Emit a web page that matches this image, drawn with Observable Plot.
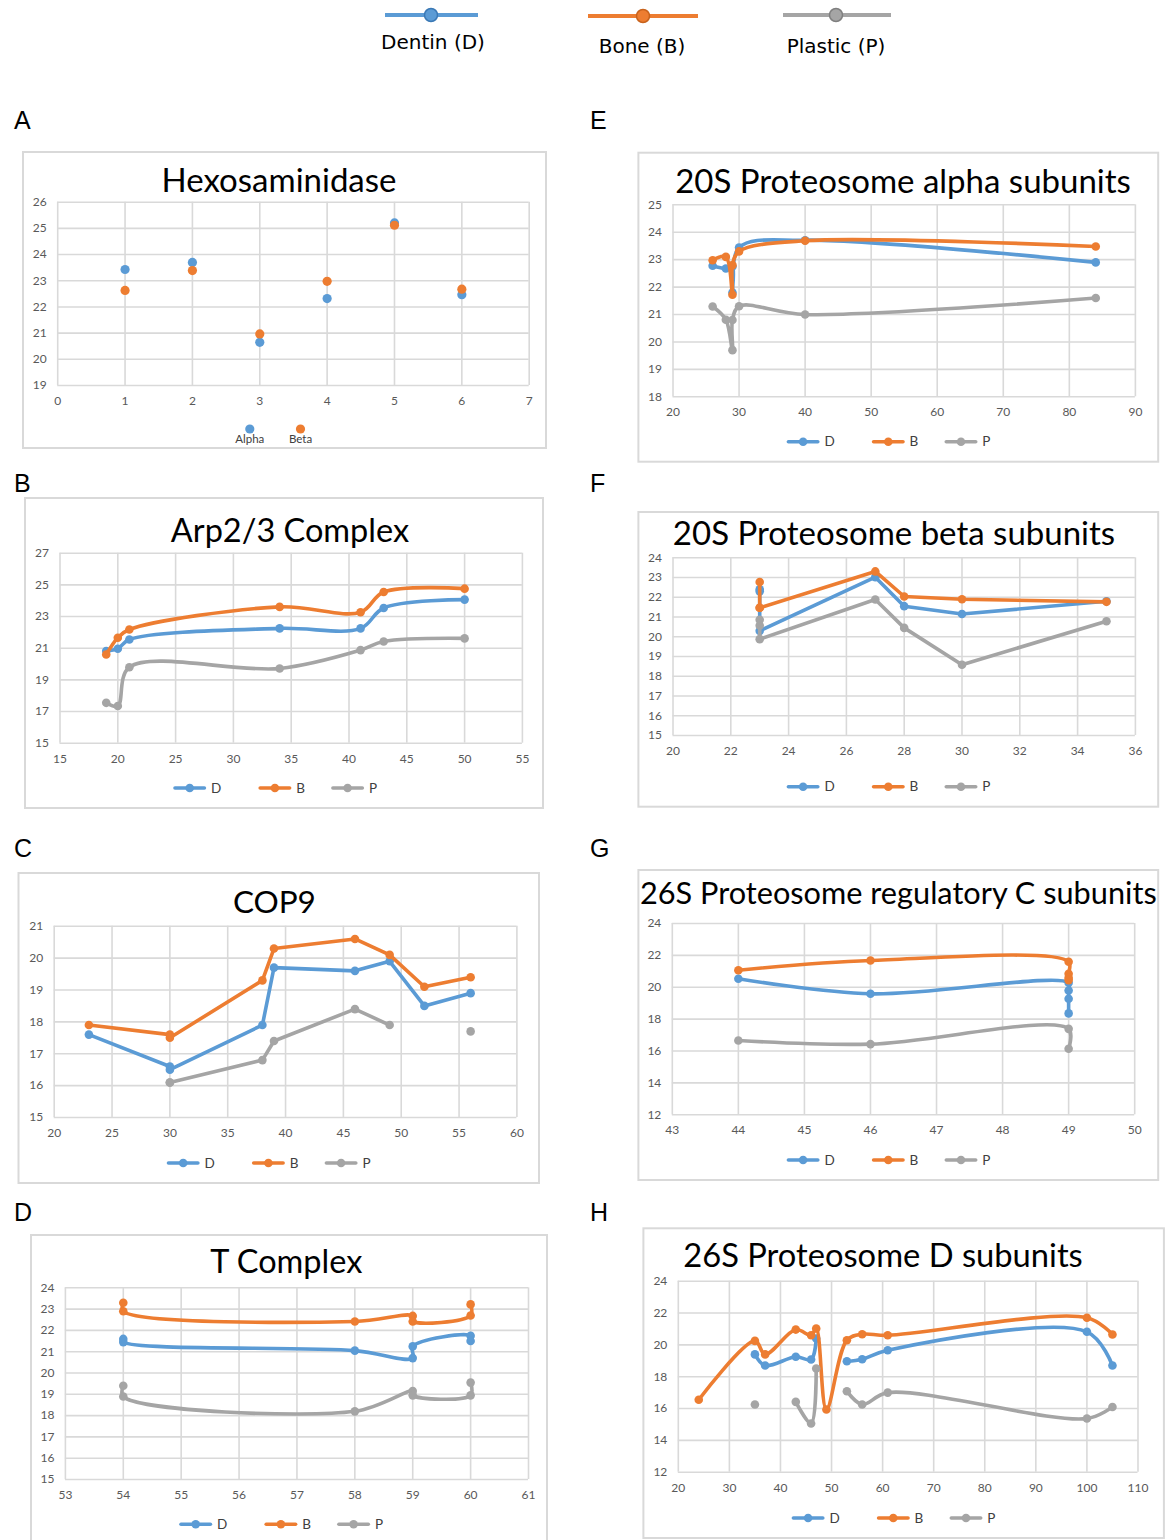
<!DOCTYPE html>
<html><head><meta charset="utf-8">
<script src="https://cdn.jsdelivr.net/npm/d3@7"></script>
<script src="https://cdn.jsdelivr.net/npm/@observablehq/plot@0.6"></script>
<style>
body{margin:0;background:#fff;}
#root{position:relative;width:1171px;height:1540px;overflow:hidden;background:#fff;}
</style></head><body><div id="root"></div>
<script>
// ---------- colours ----------
const BLUE = "#5B9BD5", ORANGE = "#ED7D31", GRAY = "#A5A5A5";

// ---------- legend names ----------
const seriesNames = ["Dentin (D)", "Bone (B)", "Plastic (P)"];
const seriesShort = ["D", "B", "P"];
const hexNames = ["Alpha", "Beta"];

// ---------- A: Hexosaminidase ----------
const hexX = [1, 2, 3, 4, 5, 6];
const hexAlpha = [23.43, 23.70, 20.65, 22.32, 25.21, 22.47];
const hexBeta  = [22.63, 23.39, 20.97, 22.98, 25.12, 22.68];
const hexTicksX = [0, 1, 2, 3, 4, 5, 6, 7];
const hexTicksY = [19, 20, 21, 22, 23, 24, 25, 26];

// ---------- B: Arp2/3 Complex ----------
const arpX = [19, 20, 21, 34, 41, 43, 50];
const arpD = [20.82, 20.97, 21.55, 22.25, 22.25, 23.54, 24.07];
const arpB = [20.60, 21.66, 22.18, 23.61, 23.27, 24.55, 24.76];
const arpP = [17.55, 17.35, 19.80, 19.72, 20.88, 21.42, 21.62];
const arpTicksX = [15, 20, 25, 30, 35, 40, 45, 50, 55];
const arpTicksY = [15, 17, 19, 21, 23, 25, 27];

// ---------- C: COP9 ----------
const copX = [23, 30, 30, 38, 39, 46, 49, 52, 56];
const copD = [17.6, 16.6, 16.5, 17.9, 19.7, 19.6, 19.9, 18.5, 18.9];
const copB = [17.9, 17.6, 17.5, 19.3, 20.3, 20.6, 20.1, 19.1, 19.4];
const copP = [null, 16.1, 16.1, 16.8, 17.4, 18.4, 17.9, null, 17.7];
const copTicksX = [20, 25, 30, 35, 40, 45, 50, 55, 60];
const copTicksY = [15, 16, 17, 18, 19, 20, 21];

// ---------- D: T Complex ----------
const tcX = [54, 54, 58, 59, 59, 60, 60];
const tcD = [21.60, 21.45, 21.05, 20.70, 21.25, 21.75, 21.50];
const tcB = [23.30, 22.90, 22.42, 22.68, 22.42, 22.70, 23.22];
const tcP = [19.40, 18.90, 18.20, 19.15, 18.95, 18.95, 19.55];
const tcTicksX = [53, 54, 55, 56, 57, 58, 59, 60, 61];
const tcTicksY = [15, 16, 17, 18, 19, 20, 21, 22, 23, 24];

// ---------- E: 20S Proteosome alpha subunits ----------
const eX = [26, 28, 29, 29, 30, 40, 84];
const eD = [22.78, 22.68, 22.75, 21.80, 23.44, 23.71, 22.90];
const eB = [22.98, 23.10, 21.72, 22.80, 23.30, 23.69, 23.48];
const eP = [21.29, 20.81, 19.70, 20.80, 21.30, 21.00, 21.60];
const eTicksX = [20, 30, 40, 50, 60, 70, 80, 90];
const eTicksY = [18, 19, 20, 21, 22, 23, 24, 25];

// ---------- F: 20S Proteosome beta subunits ----------
const fX = [23, 23, 23, 27, 28, 30, 35];
const fD = [22.40, 22.30, 20.30, 23.02, 21.55, 21.15, 21.80];
const fB = [22.77, 21.47, 21.47, 23.31, 22.04, 21.90, 21.77];
const fP = [20.86, 20.57, 19.88, 21.89, 20.45, 18.58, 20.79];
const fTicksX = [20, 22, 24, 26, 28, 30, 32, 34, 36];
const fTicksY = [15, 16, 17, 18, 19, 20, 21, 22, 23, 24];

// ---------- G: 26S Proteosome regulatory C subunits ----------
const gX = [44, 46, 49, 49, 49, 49];
const gD = [20.53, 19.59, 20.28, 19.80, 19.28, 18.36];
const gB = [21.07, 21.68, 21.60, 20.85, 20.60, 20.45];
const gP = [16.66, 16.43, 17.39, 16.14, null, null];
const gTicksX = [43, 44, 45, 46, 47, 48, 49, 50];
const gTicksY = [12, 14, 16, 18, 20, 22, 24];

// ---------- H: 26S Proteosome D subunits ----------
const hX = [24, 35, 37, 43, 46, 47, 49, 53, 56, 61, 100, 105];
const hD = [null, 19.40, 18.70, 19.25, 19.08, 20.40, null, 18.97, 19.10, 19.66, 20.82, 18.70];
const hB = [16.55, 20.25, 19.40, 20.96, 20.60, 21.03, 15.94, 20.29, 20.67, 20.60, 21.70, 20.65];
const hP = [null, 16.25, null, 16.42, 15.06, 18.51, null, 17.09, 16.25, 17.00, 15.37, 16.10];
const hTicksX = [20, 30, 40, 50, 60, 70, 80, 90, 100, 110];
const hTicksY = [12, 14, 16, 18, 20, 22, 24];

// ---------- layout config ----------
const trio = (x, d, b, p) => [{x, y: d, color: BLUE}, {x, y: b, color: ORANGE}, {x, y: p, color: GRAY}];
const panels = [
  {letter: "A", lp: [14, 129], box: [23, 152, 546, 448], plot: [57.2, 201.7, 528.7, 385], title: "Hexosaminidase", tx: 279, ty: 192, fs: 33,
   xd: [0, 7], xt: hexTicksX, yd: [19, 26], yt: hexTicksY, scatter: true,
   series: [{x: hexX, y: hexAlpha, color: BLUE}, {x: hexX, y: hexBeta, color: ORANGE}]},
  {letter: "B", lp: [14, 492], box: [25, 498, 543, 808], plot: [59.5, 552.7, 521.9, 742.7], title: "Arp2/3 Complex", tx: 290, ty: 542, fs: 32.5,
   xd: [15, 55], xt: arpTicksX, yd: [15, 27], yt: arpTicksY, curve: "catmull-rom", series: trio(arpX, arpD, arpB, arpP)},
  {letter: "C", lp: [14, 857], box: [18.5, 873, 539, 1183], plot: [53.2, 925.7, 515.9, 1117], title: "COP9", tx: 274.4, ty: 913, fs: 31.5,
   xd: [20, 60], xt: copTicksX, yd: [15, 21], yt: copTicksY, curve: "linear", series: trio(copX, copD, copB, copP)},
  {letter: "D", lp: [14, 1221], box: [31, 1235, 547, 1544], plot: [64.9, 1287.3, 528, 1479], title: "T Complex", tx: 286.3, ty: 1273, fs: 32.5,
   xd: [53, 61], xt: tcTicksX, yd: [15, 24], yt: tcTicksY, curve: "catmull-rom", series: trio(tcX, tcD, tcB, tcP)},
  {letter: "E", lp: [590, 129], box: [638.4, 152.7, 1158.2, 461.7], plot: [672.9, 204, 1135.3, 396], title: "20S Proteosome alpha subunits", tx: 903, ty: 193, fs: 33,
   xd: [20, 90], xt: eTicksX, yd: [18, 25], yt: eTicksY, curve: "catmull-rom", series: trio(eX, eD, eB, eP)},
  {letter: "F", lp: [590, 492], box: [638.4, 512, 1158.2, 806.7], plot: [672.9, 557.3, 1135.3, 735], title: "20S Proteosome beta subunits", tx: 894, ty: 545, fs: 33,
   xd: [20, 36], xt: fTicksX, yd: [15, 24], yt: fTicksY, curve: "linear", series: trio(fX, fD, fB, fP)},
  {letter: "G", lp: [590, 857], box: [638.4, 870, 1158.2, 1180], plot: [672.2, 923, 1134.6, 1114.3], title: "26S Proteosome regulatory C subunits", tx: 898.3, ty: 904, fs: 30.7,
   xd: [43, 50], xt: gTicksX, yd: [12, 24], yt: gTicksY, curve: "catmull-rom", series: trio(gX, gD, gB, gP)},
  {letter: "H", lp: [590, 1221], box: [643.4, 1228.3, 1163.9, 1538], plot: [678.2, 1281, 1137.9, 1472], title: "26S Proteosome D subunits", tx: 883, ty: 1267, fs: 32.7,
   xd: [20, 110], xt: hTicksX, yd: [12, 24], yt: hTicksY, curve: "catmull-rom", series: trio(hX, hD, hB, hP)}
];

const root = document.getElementById("root");

for (const p of panels) {
  const [bx0, by0, bx1, by1] = p.box, [px0, py0, px1, py1] = p.plot;
  const marks = [
    Plot.gridX(p.xt, {stroke: "#d9d9d9", strokeOpacity: 1, strokeWidth: 1.6}),
    Plot.gridY(p.yt, {stroke: "#d9d9d9", strokeOpacity: 1, strokeWidth: 1.6}),
    Plot.axisX(p.xt, {tickSize: 0, tickPadding: 11, fontSize: 12, fill: "#595959", label: null}),
    Plot.axisY(p.yt, {tickSize: 0, tickPadding: 11, fontSize: 12, fill: "#595959", label: null})
  ];
  for (const s of p.series) {
    const data = s.x.map((x, i) => ({x, y: s.y[i]}));
    if (!p.scatter) {
      marks.push(Plot.line(data, {x: "x", y: "y", stroke: s.color, strokeWidth: 3.6, curve: p.curve,
        strokeLinejoin: "round", strokeLinecap: "round"}));
    }
    marks.push(Plot.dot(data.filter(d => d.y != null), {x: "x", y: "y", fill: s.color, r: p.scatter ? 4.6 : 4.3}));
  }
  const svg = Plot.plot({
    width: bx1 - bx0, height: by1 - by0,
    marginLeft: px0 - bx0, marginRight: bx1 - px1, marginTop: py0 - by0, marginBottom: by1 - py1,
    x: {domain: p.xd}, y: {domain: p.yd},
    style: {fontFamily: "Lato", background: "transparent", overflow: "visible"},
    marks
  });
  svg.style.position = "absolute";
  svg.style.left = bx0 + "px";
  svg.style.top = by0 + "px";
  svg.style.maxWidth = "none";
  root.appendChild(svg);
}

// ---------- overlay: boxes, titles, letters, legends ----------
const ov = d3.select(root).append("svg")
  .attr("width", 1171).attr("height", 1540)
  .style("position", "absolute").style("left", "0px").style("top", "0px");

for (const p of panels) {
  const [bx0, by0, bx1, by1] = p.box;
  ov.append("rect").attr("x", bx0).attr("y", by0).attr("width", bx1 - bx0).attr("height", by1 - by0)
    .attr("fill", "none").attr("stroke", "#d9d9d9").attr("stroke-width", 2);
  ov.append("text").attr("x", p.tx).attr("y", p.ty).attr("text-anchor", "middle")
    .attr("font-family", "Lato").attr("font-size", p.fs).attr("fill", "#000").text(p.title);
  ov.append("text").attr("x", p.lp[0]).attr("y", p.lp[1])
    .attr("font-family", "Liberation Sans").attr("font-size", 25).attr("fill", "#000").text(p.letter);
  if (p.scatter) {
    const lx = [249.8, 300.5];
    p.series.forEach((s, i) => {
      ov.append("circle").attr("cx", lx[i]).attr("cy", 429).attr("r", 4.6).attr("fill", s.color);
      ov.append("text").attr("x", lx[i]).attr("y", 443.3).attr("text-anchor", "middle")
        .attr("font-family", "Lato").attr("font-size", 11.5).attr("fill", "#404040").text(hexNames[i]);
    });
  } else {
    const x0 = bx0 + 150, ly = (p.letter === "D") ? 1524.3 : by1 - 20;
    const offs = [0, 85.2, 157.9];
    p.series.forEach((s, i) => {
      const lx = x0 + offs[i];
      ov.append("line").attr("x1", lx).attr("x2", lx + 29.4).attr("y1", ly).attr("y2", ly)
        .attr("stroke", s.color).attr("stroke-width", 3.6).attr("stroke-linecap", "round");
      ov.append("circle").attr("cx", lx + 14.7).attr("cy", ly).attr("r", 4.3).attr("fill", s.color);
      ov.append("text").attr("x", lx + 36).attr("y", ly + 4.7)
        .attr("font-family", "Lato").attr("font-size", 13.5).attr("fill", "#404040").text(seriesShort[i]);
    });
  }
}

// top legend
const topLegend = [
  {color: BLUE, edge: "#3a78b5", x0: 385, x1: 478, y: 15, mx: 431, tx: 433, ty: 49},
  {color: ORANGE, edge: "#c8621c", x0: 588, x1: 698, y: 16, mx: 643, tx: 642, ty: 53},
  {color: GRAY, edge: "#7f7f7f", x0: 783, x1: 891, y: 15, mx: 836, tx: 836, ty: 53}
];
topLegend.forEach((t, i) => {
  ov.append("line").attr("x1", t.x0).attr("x2", t.x1).attr("y1", t.y).attr("y2", t.y)
    .attr("stroke", t.color).attr("stroke-width", 4);
  ov.append("circle").attr("cx", t.mx).attr("cy", t.y).attr("r", 6.5)
    .attr("fill", t.color).attr("stroke", t.edge).attr("stroke-width", 1.5);
  ov.append("text").attr("x", t.tx).attr("y", t.ty).attr("text-anchor", "middle")
    .attr("font-family", "DejaVu Sans").attr("font-size", 20).attr("fill", "#000").text(seriesNames[i]);
});
</script></body></html>
